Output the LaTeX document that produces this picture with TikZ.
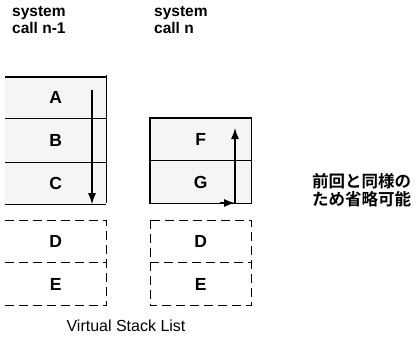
\documentclass[tikz,border=0pt]{standalone}
\usepackage{fontspec}
\setmainfont{Liberation Sans}
\newfontfamily\jpfont{Noto Sans CJK JP Bold}
\usetikzlibrary{arrows.meta}
\begin{document}
\begin{tikzpicture}[x=1pt,y=-1pt,
  cell/.style={minimum width=101pt,inner sep=0pt,font=\fontsize{17.5}{17.5}\selectfont\bfseries},
  shaded/.style={fill=black!4},
  hdr/.style={align=left,anchor=north west,inner sep=0pt,font=\fontsize{15.5}{17}\selectfont\bfseries},
  edge/.style={line width=1.2pt},
  dedge/.style={line width=0.9pt,dash pattern=on 9pt off 5pt},
  arr/.style={line width=1.3pt,-{Latex[length=11pt,width=8pt]}}]
\useasboundingbox (0,0) rectangle (419,343);
% headers
\node[hdr] (h1) at (12,6) {system\\call n-1};
\node[hdr] (h2) at (154,6) {system\\call n};
% left stack
\node[cell,shaded,minimum height=41pt,anchor=north west] (A) at (5,77) {A};
\node[cell,shaded,minimum height=44pt,anchor=north] (B) at (A.south) {B};
\node[cell,shaded,minimum height=41pt,anchor=north] (C) at (B.south) {C};
\draw[edge] (A.north west) -- (A.north east);
\draw[edge] (A.south west) -- (A.south east);
\draw[edge] (B.south west) -- (B.south east);
\draw[edge] (C.south west) -- (C.south east);
\draw[edge] ([yshift=2pt]A.north east) -- ([yshift=1pt]C.south east);
\coordinate (la) at (92,90);
\draw[arr] (la) -- (la |- C.south);
% left D/E
\node[cell,minimum height=42pt,anchor=north west] (D1) at (5,220) {D};
\node[cell,minimum height=43pt,anchor=north] (E1) at (D1.south) {E};
\draw[dedge] (D1.north west) -- (D1.north east) -- (E1.south east) -- (E1.south west);
\draw[dedge] (D1.south west) -- (D1.south east);
% right stack
\node[cell,shaded,minimum height=42pt,anchor=north west] (F) at (150,118) {F};
\node[cell,shaded,minimum height=43pt,anchor=north] (G) at (F.south) {G};
\draw[edge] (F.north west) rectangle (G.south east);
\draw[edge] (F.south west) -- (F.south east);
\coordinate (rc) at (235,203);
\coordinate (rs) at (220,203);
\draw[arr] (rs) -- (rc);
\draw[arr] (rc) -- (235,128);
% right D/E
\node[cell,minimum height=42pt,anchor=north west] (D2) at (150,220) {D};
\node[cell,minimum height=43pt,anchor=north] (E2) at (D2.south) {E};
\draw[dedge] (D2.north west) rectangle (E2.south east);
\draw[dedge] (D2.south west) -- (D2.south east);
% note
\node[align=left,anchor=west,inner sep=0pt,font=\jpfont\fontsize{16.5}{17.5}\selectfont] (note) at (312,190) {前回と同様の\\ため省略可能};
% caption
\node[font=\fontsize{16}{17}\selectfont] (cap) at (126,326) {Virtual Stack List};
\end{tikzpicture}
\end{document}
